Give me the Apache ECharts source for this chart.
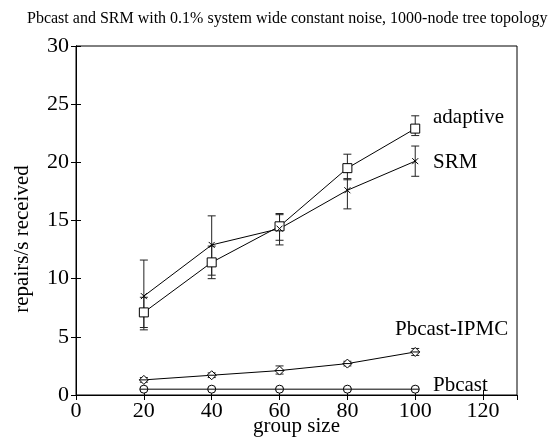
<!DOCTYPE html>
<html>
<head>
<meta charset="utf-8">
<script src="https://cdn.jsdelivr.net/npm/echarts@6/dist/echarts.min.js"></script>
<style>html,body{margin:0;padding:0;background:#fff}#c{width:550px;height:437px}</style>
</head>
<body>
<div id="c"></div>
<script>
var groupSizes = [20, 40, 60, 80, 100];
var adaptive = [7.1, 11.4, 14.5, 19.5, 22.9];
var adaptiveLow = [5.8, 10.0, 13.3, 18.5, 22.3];
var adaptiveHigh = [8.4, 12.8, 15.6, 20.7, 24.0];
var srm = [8.5, 12.9, 14.3, 17.6, 20.1];
var srmLow = [5.6, 10.3, 12.9, 16.0, 18.8];
var srmHigh = [11.6, 15.4, 15.5, 18.6, 21.4];
var ipmc = [1.3, 1.7, 2.1, 2.7, 3.7];
var ipmcLow = [1.1, 1.5, 1.8, 2.5, 3.4];
var ipmcHigh = [1.5, 1.9, 2.5, 2.9, 4.0];
var pbcast = [0.5, 0.5, 0.5, 0.5, 0.5];
var pbcastLow = [0.4, 0.4, 0.4, 0.4, 0.4];
var pbcastHigh = [0.6, 0.6, 0.6, 0.6, 0.6];
var seriesNames = ['adaptive', 'SRM', 'Pbcast-IPMC', 'Pbcast'];
var xTicks = [0, 20, 40, 60, 80, 100, 120];
var yTicks = [0, 5, 10, 15, 20, 25, 30];

var FONT = 'Liberation Serif';
function pairs(vals) { return groupSizes.map(function (x, i) { return [x, vals[i]]; }); }
function errData(lo, hi) { return groupSizes.map(function (x, i) { return [x, lo[i], hi[i]]; }); }
function errRender(params, api) {
  var x = api.value(0), lo = api.value(1), hi = api.value(2);
  var a = api.coord([x, hi]), b = api.coord([x, lo]);
  var w = 4, st = { stroke: '#222', lineWidth: 1 };
  return { type: 'group', children: [
    { type: 'line', shape: { x1: a[0], y1: a[1], x2: b[0], y2: b[1] }, style: st },
    { type: 'line', shape: { x1: a[0] - w, y1: a[1], x2: a[0] + w, y2: a[1] }, style: st },
    { type: 'line', shape: { x1: b[0] - w, y1: b[1], x2: b[0] + w, y2: b[1] }, style: st }
  ] };
}
function errSeries(lo, hi) {
  return { type: 'custom', renderItem: errRender, data: errData(lo, hi), z: 3, silent: true };
}
function lineSeries(name, vals, symbol, size) {
  return { name: name, type: 'line', data: pairs(vals), symbol: symbol, symbolSize: size,
    showAllSymbol: true, lineStyle: { color: '#000', width: 1 },
    itemStyle: { color: '#fff', borderColor: '#000', borderWidth: 1 }, z: 4, animation: false };
}
var chart = echarts.init(document.getElementById('c'), null, { renderer: 'canvas' });
chart.setOption({
  animation: false,
  title: { text: 'Pbcast and SRM with 0.1% system wide constant noise, 1000-node tree topology',
    left: 22, top: 6, textStyle: { fontFamily: FONT, fontSize: 16, fontWeight: 'normal', color: '#000' } },
  grid: { left: 76, right: 33, top: 46, bottom: 42, show: true, borderColor: '#000', borderWidth: 1,
    containLabel: false, outerBoundsMode: 'none' },
  xAxis: [
    { type: 'value', min: 0, max: 130, interval: 20, position: 'bottom',
      name: 'group size', nameLocation: 'middle', nameGap: 21, nameMoveOverlap: false,
      nameTextStyle: { fontFamily: FONT, fontSize: 21, color: '#000' },
      axisLine: { lineStyle: { color: '#000' } }, axisTick: { inside: true, length: 5, lineStyle: { color: '#000' } },
      axisLabel: { margin: 5, showMaxLabel: false, fontFamily: FONT, fontSize: 22, color: '#000',
        formatter: function (v) { return xTicks.indexOf(v) >= 0 ? String(v) : ''; } },
      splitLine: { show: false } },
    { type: 'value', min: 0, max: 130, interval: 20, position: 'top',
      axisLine: { lineStyle: { color: '#000' } }, axisTick: { inside: true, length: 5, lineStyle: { color: '#000' } },
      axisLabel: { show: false }, splitLine: { show: false } }
  ],
  yAxis: [
    { type: 'value', min: 0, max: 30, interval: 5, position: 'left',
      axisLine: { show: true, lineStyle: { color: '#000' } }, axisTick: { show: true, inside: true, length: 5, lineStyle: { color: '#000' } },
      axisLabel: { margin: 7, fontFamily: FONT, fontSize: 22, color: '#000',
        formatter: function (v) { return yTicks.indexOf(v) >= 0 ? String(v) : ''; } },
      splitLine: { show: false } },
    { type: 'value', min: 0, max: 30, interval: 5, position: 'right',
      axisLine: { show: true, lineStyle: { color: '#000' } }, axisTick: { show: true, inside: true, length: 5, lineStyle: { color: '#000' } },
      axisLabel: { show: false }, splitLine: { show: false } }
  ],
  graphic: [
    { type: 'text', x: 22, y: 239, rotation: Math.PI / 2,
      style: { text: 'repairs/s received', fontFamily: FONT, fontSize: 21, fill: '#000', align: 'center', verticalAlign: 'middle' } },
    { type: 'text', x: 433, y: 117, style: { text: seriesNames[0], fontFamily: FONT, fontSize: 21, fill: '#000', verticalAlign: 'middle' } },
    { type: 'text', x: 433, y: 162, style: { text: seriesNames[1], fontFamily: FONT, fontSize: 21, fill: '#000', verticalAlign: 'middle' } },
    { type: 'text', x: 395, y: 329, style: { text: seriesNames[2], fontFamily: FONT, fontSize: 21, fill: '#000', verticalAlign: 'middle' } },
    { type: 'text', x: 433, y: 385, style: { text: seriesNames[3], fontFamily: FONT, fontSize: 21, fill: '#000', verticalAlign: 'middle' } }
  ],
  series: [
    errSeries(adaptiveLow, adaptiveHigh),
    errSeries(srmLow, srmHigh),
    errSeries(ipmcLow, ipmcHigh),
    errSeries(pbcastLow, pbcastHigh),
    lineSeries(seriesNames[0], adaptive, 'rect', 9),
    lineSeries(seriesNames[1], srm, 'path://M0,0L10,10M10,0L0,10', 6),
    lineSeries(seriesNames[2], ipmc, 'path://M5,0L10,5L5,10L0,5ZM0,5L10,5', 9),
    lineSeries(seriesNames[3], pbcast, 'path://M0,5A5,5,0,1,1,10,5A5,5,0,1,1,0,5ZM0,5L10,5', 8)
  ]
});
</script>
</body>
</html>
